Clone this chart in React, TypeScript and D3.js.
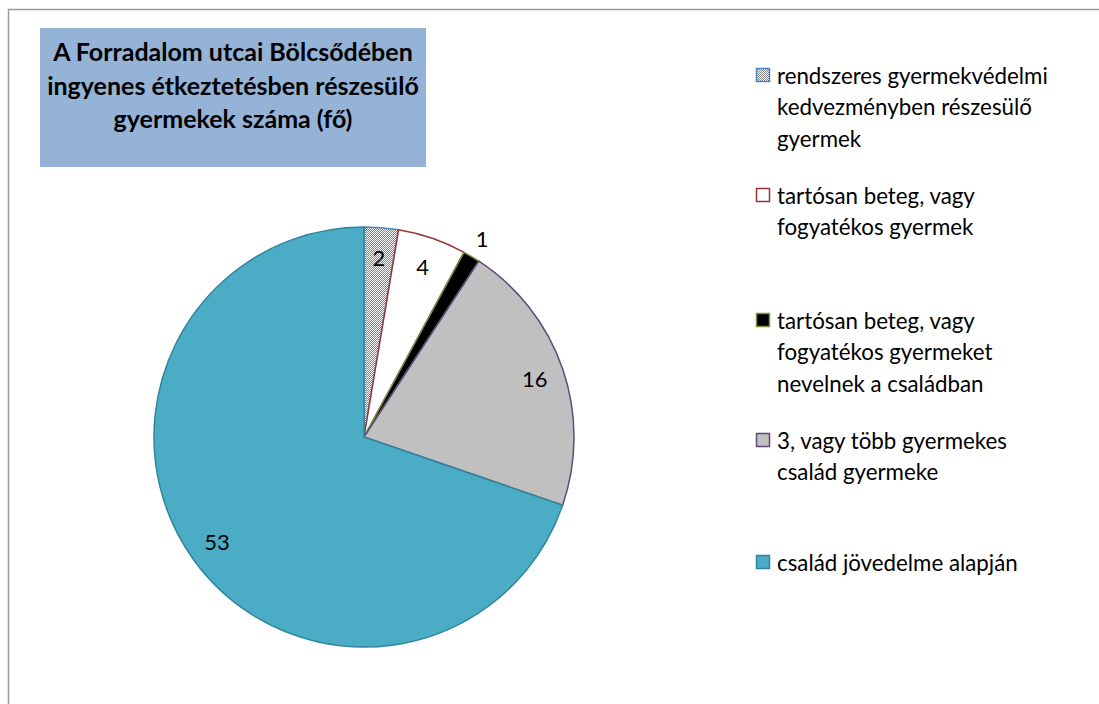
import * as d3 from 'd3'

const categories = [
  ['rendszeres gyermekvédelmi', 'kedvezményben részesülő', 'gyermek'],
  ['tartósan beteg, vagy', 'fogyatékos gyermek'],
  ['tartósan beteg, vagy', 'fogyatékos gyermeket', 'nevelnek a családban'],
  ['3, vagy több gyermekes', 'család gyermeke'],
  ['család jövedelme alapján'],
]
const values = [2, 4, 1, 16, 53]
const fills = ['url(#dots)', '#ffffff', '#000000', '#c0c0c0', '#4bacc6']
const strokes = ['#4f81bd', '#953735', '#77933c', '#604a7b', '#31859c']
const titleLines = ['A Forradalom utcai Bölcsődében', 'ingyenes étkeztetésben részesülő', 'gyermekek száma (fő)']

const W = 1099
const H = 704
const cx = 364
const cy = 437
const R = 210
const font = 'Lato, Carlito, Calibri, sans-serif'

export default function App() {
  const pie = d3.pie<number>().sort(null).value((d) => d)
  const arcs = pie(values)
  const arc = d3.arc<d3.PieArcDatum<number>>().innerRadius(0).outerRadius(R)

  // legend rows: each entry starts after previous block
  const legendStarts = [75, 195, 320, 440, 562]
  const lineH = 31.5

  return (
    <svg width={W} height={H} style={{ position: 'absolute', left: 0, top: 0, background: '#fff' }} fontFamily={font}>
      <defs>
        <pattern id="dots" width={2} height={2} patternUnits="userSpaceOnUse">
          <rect width={2} height={2} fill="#ffffff" />
          <rect x={0} y={0} width={1} height={1} fill="#808080" />
          <rect x={1} y={1} width={1} height={1} fill="#808080" />
        </pattern>
      </defs>
      <rect x={8.5} y={9.5} width={W + 20} height={H + 20} fill="#fff" stroke="#9a9a9a" strokeWidth={1.5} />

      <rect x={40} y={28} width={386} height={139} fill="#95b3d7" />
      {titleLines.map((t, i) => (
        <text key={i} x={233} y={51 + i * 33.5} textAnchor="middle" dominantBaseline="central" fontSize={25} fontWeight="bold" fill="#000">
          {t}
        </text>
      ))}

      <g transform={`translate(${cx},${cy})`}>
        {arcs.map((a, i) => (
          <path key={i} d={arc(a) || ''} fill={fills[i]} stroke={strokes[i]} strokeWidth={1.5} strokeLinejoin="round" />
        ))}
        {arcs.map((a, i) => {
          const mid = (a.startAngle + a.endAngle) / 2
          const r = a.value < 2 ? R * 1.1 : R * 0.86
          const x = Math.sin(mid) * r
          const y = -Math.cos(mid) * r
          return (
            <text key={i} x={x} y={y} textAnchor="middle" dominantBaseline="central" fontSize={22} fill="#000">
              {a.value}
            </text>
          )
        })}
      </g>

      {categories.map((lines, i) => (
        <g key={i}>
          <rect
            x={756.5}
            y={legendStarts[i] - 6.5}
            width={13}
            height={13}
            fill={fills[i]}
            stroke={strokes[i]}
            strokeWidth={1.5}
          />
          {lines.map((l, j) => (
            <text key={j} x={777} y={legendStarts[i] + j * lineH} dominantBaseline="central" fontSize={22.3} fill="#000">
              {l}
            </text>
          ))}
        </g>
      ))}
    </svg>
  )
}
